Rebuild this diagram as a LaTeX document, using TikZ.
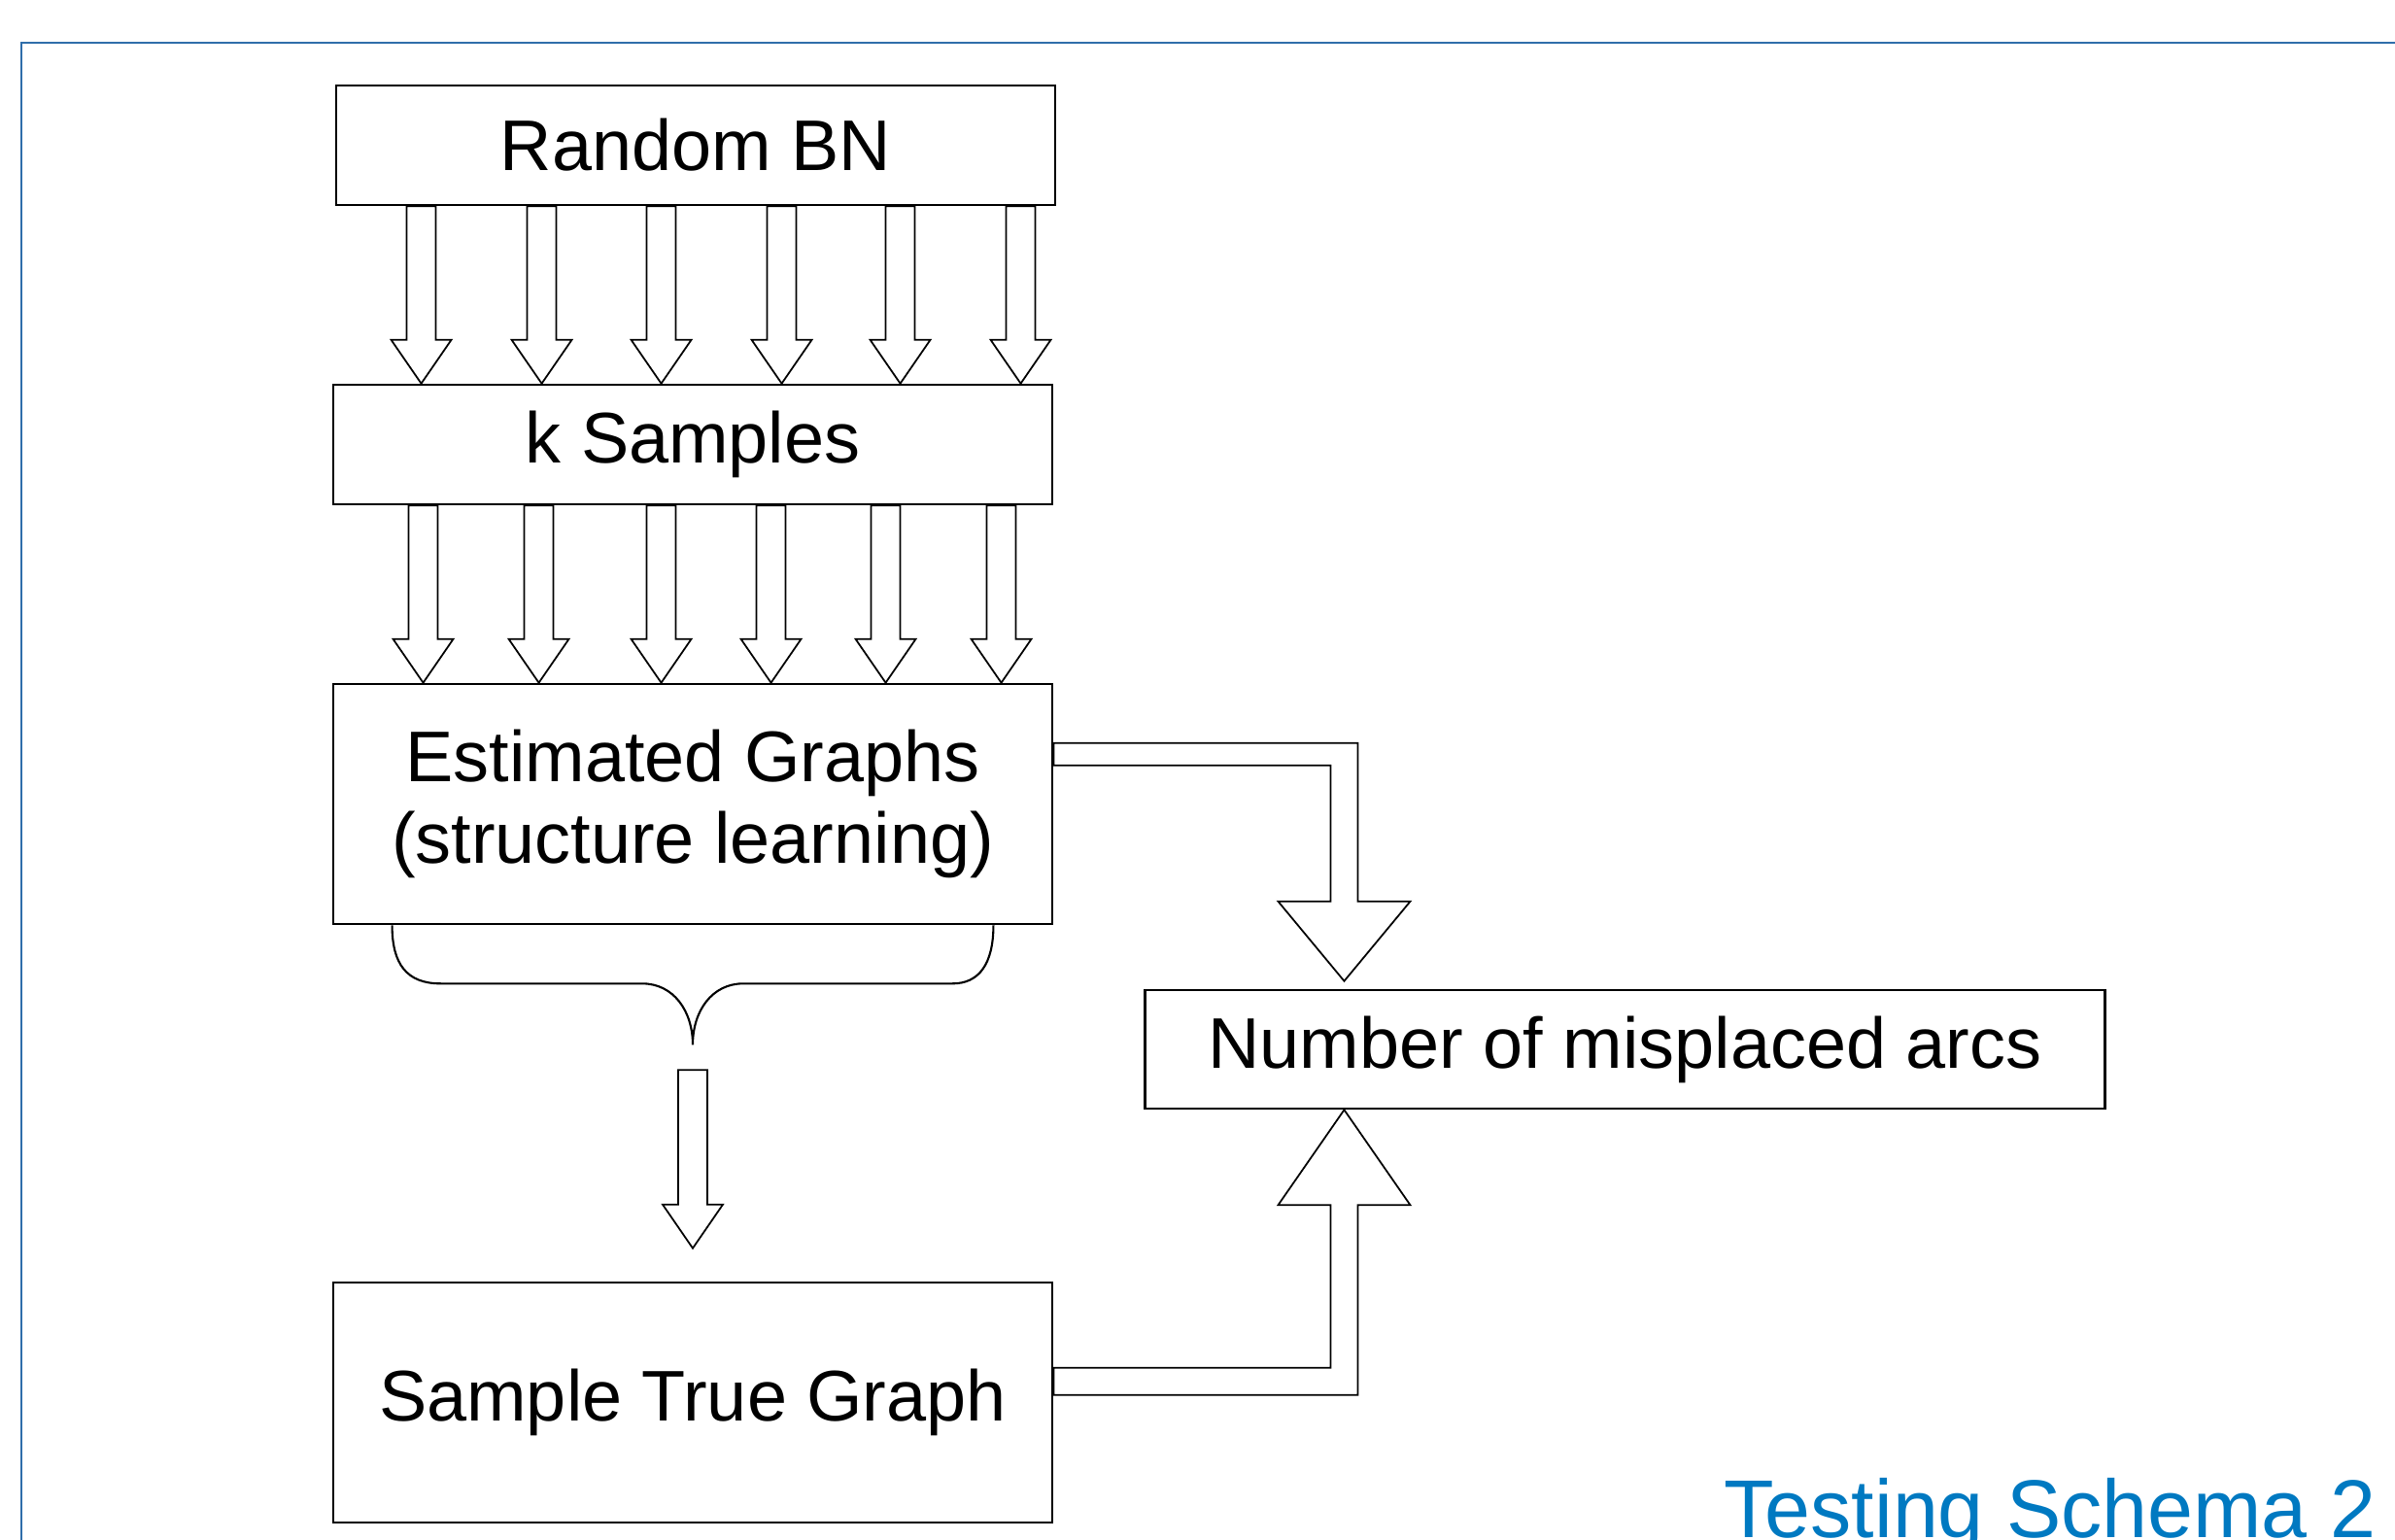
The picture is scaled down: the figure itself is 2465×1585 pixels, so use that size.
\documentclass[tikz,border=0pt]{standalone}
\usepackage{fontspec}
\setmainfont{Liberation Sans}
\usetikzlibrary{calc,positioning}
\definecolor{frameblue}{HTML}{2F6EAA}
\definecolor{titleblue}{HTML}{0079C1}

% hollow block arrow pointing down, from #1 (top of shaft) to #2 (tip)
\newcommand{\blockdown}[2]{%
  \draw[blockarrow] ($(#1)+(-15,0)$) -- ($(#2)+(-15,-45)$) -- ($(#2)+(-31,-45)$) -- (#2)
    -- ($(#2)+(31,-45)$) -- ($(#2)+(15,-45)$) -- ($(#1)+(15,0)$) -- cycle;}

\begin{document}
\begin{tikzpicture}[x=0.01cm, y=-0.01cm, line join=miter,
  box/.style={draw, line width=0.7pt, inner sep=0pt, minimum width=7.4cm, align=center,
    font=\fontsize{21}{24}\selectfont},
  blockarrow/.style={draw, fill=white, line width=0.5pt}]
\useasboundingbox (0,0) rectangle (2465,1585);
\draw[frameblue, line width=0.7pt] (22,1585) -- (22,44) -- (2465,44);

\node[box, minimum height=1.23cm] (rbn) at (716,149.5) {Random BN};
\node[box, minimum height=1.23cm] (ks) at (713,457.5) {k Samples};
\node[box, minimum height=2.47cm] (est) at (713,827.5) {Estimated Graphs\\(structure learning)};
\node[box, minimum height=2.47cm] (stg) at (713,1443.5) {Sample True Graph};
\node[box, minimum height=1.22cm, minimum width=9.87cm] (num) at (1672.5,1080) {Number of misplaced arcs};

% network -> samples
\foreach \dx [count=\i] in {89,213,336,460,582,706} {
  \coordinate (a\i) at ($(rbn.south west)+(\dx,0)$);
  \coordinate (b\i) at (a\i |- ks.north);
  \blockdown{a\i}{b\i}
}
% samples -> graphs
\foreach \dx [count=\i] in {94,213,339,452,570,689} {
  \coordinate (c\i) at ($(ks.south west)+(\dx,0)$);
  \coordinate (d\i) at (c\i |- est.north);
  \blockdown{c\i}{d\i}
}

% brace under the estimated graphs
\coordinate (bl) at ($(est.south west)+(62,0)$);
\coordinate (br) at ($(est.south east)+(-62,0)$);
\coordinate (bt) at ($(est.south)+(0,123)$);
\draw[line width=0.6pt] (bl) .. controls ($(bl)+(0,40)$) and ($(bl)+(15,60)$) .. ($(bl)+(50,60)$)
  -- ($(bt)+(-52,-63)$) .. controls ($(bt)+(-20,-63)$) and ($(bt)+(0,-35)$) .. (bt)
  .. controls ($(bt)+(0,-35)$) and ($(bt)+(20,-63)$) .. ($(bt)+(52,-63)$)
  -- ($(br)+(-42,60)$) .. controls ($(br)+(-15,60)$) and ($(br)+(0,40)$) .. (br);

\coordinate (dtop) at ($(est.south)+(0,149)$);
\coordinate (dtip) at ($(stg.north)+(0,-34)$);
\blockdown{dtop}{dtip}

% elbow arrows into the count
\coordinate (e1) at ($(est.north east)+(0,62)$);
\coordinate (e2) at ($(est.north east)+(0,85)$);
\coordinate (t1) at ($(num.north west)+(206,-8)$);
\draw[blockarrow] (e1) -- ($(e1 -| t1)+(14,0)$) -- ($(t1)+(14,-82)$) -- ($(t1)+(68,-82)$) -- (t1)
  -- ($(t1)+(-68,-82)$) -- ($(t1)+(-14,-82)$) -- ($(e2 -| t1)+(-14,0)$) -- (e2) -- cycle;

\coordinate (s1) at ($(stg.north east)+(0,89)$);
\coordinate (s2) at ($(stg.north east)+(0,117)$);
\coordinate (t2) at ($(num.south west)+(206,0)$);
\draw[blockarrow] (s2) -- ($(s2 -| t2)+(14,0)$) -- ($(t2)+(14,98)$) -- ($(t2)+(68,98)$) -- (t2)
  -- ($(t2)+(-68,98)$) -- ($(t2)+(-14,98)$) -- ($(s1 -| t2)+(-14,0)$) -- (s1) -- cycle;

\node[font=\fontsize{24}{28}\selectfont, text=titleblue, anchor=base east, inner sep=0pt] (title)
  at (2446,1582) {Testing Schema 2};
\end{tikzpicture}
\end{document}
